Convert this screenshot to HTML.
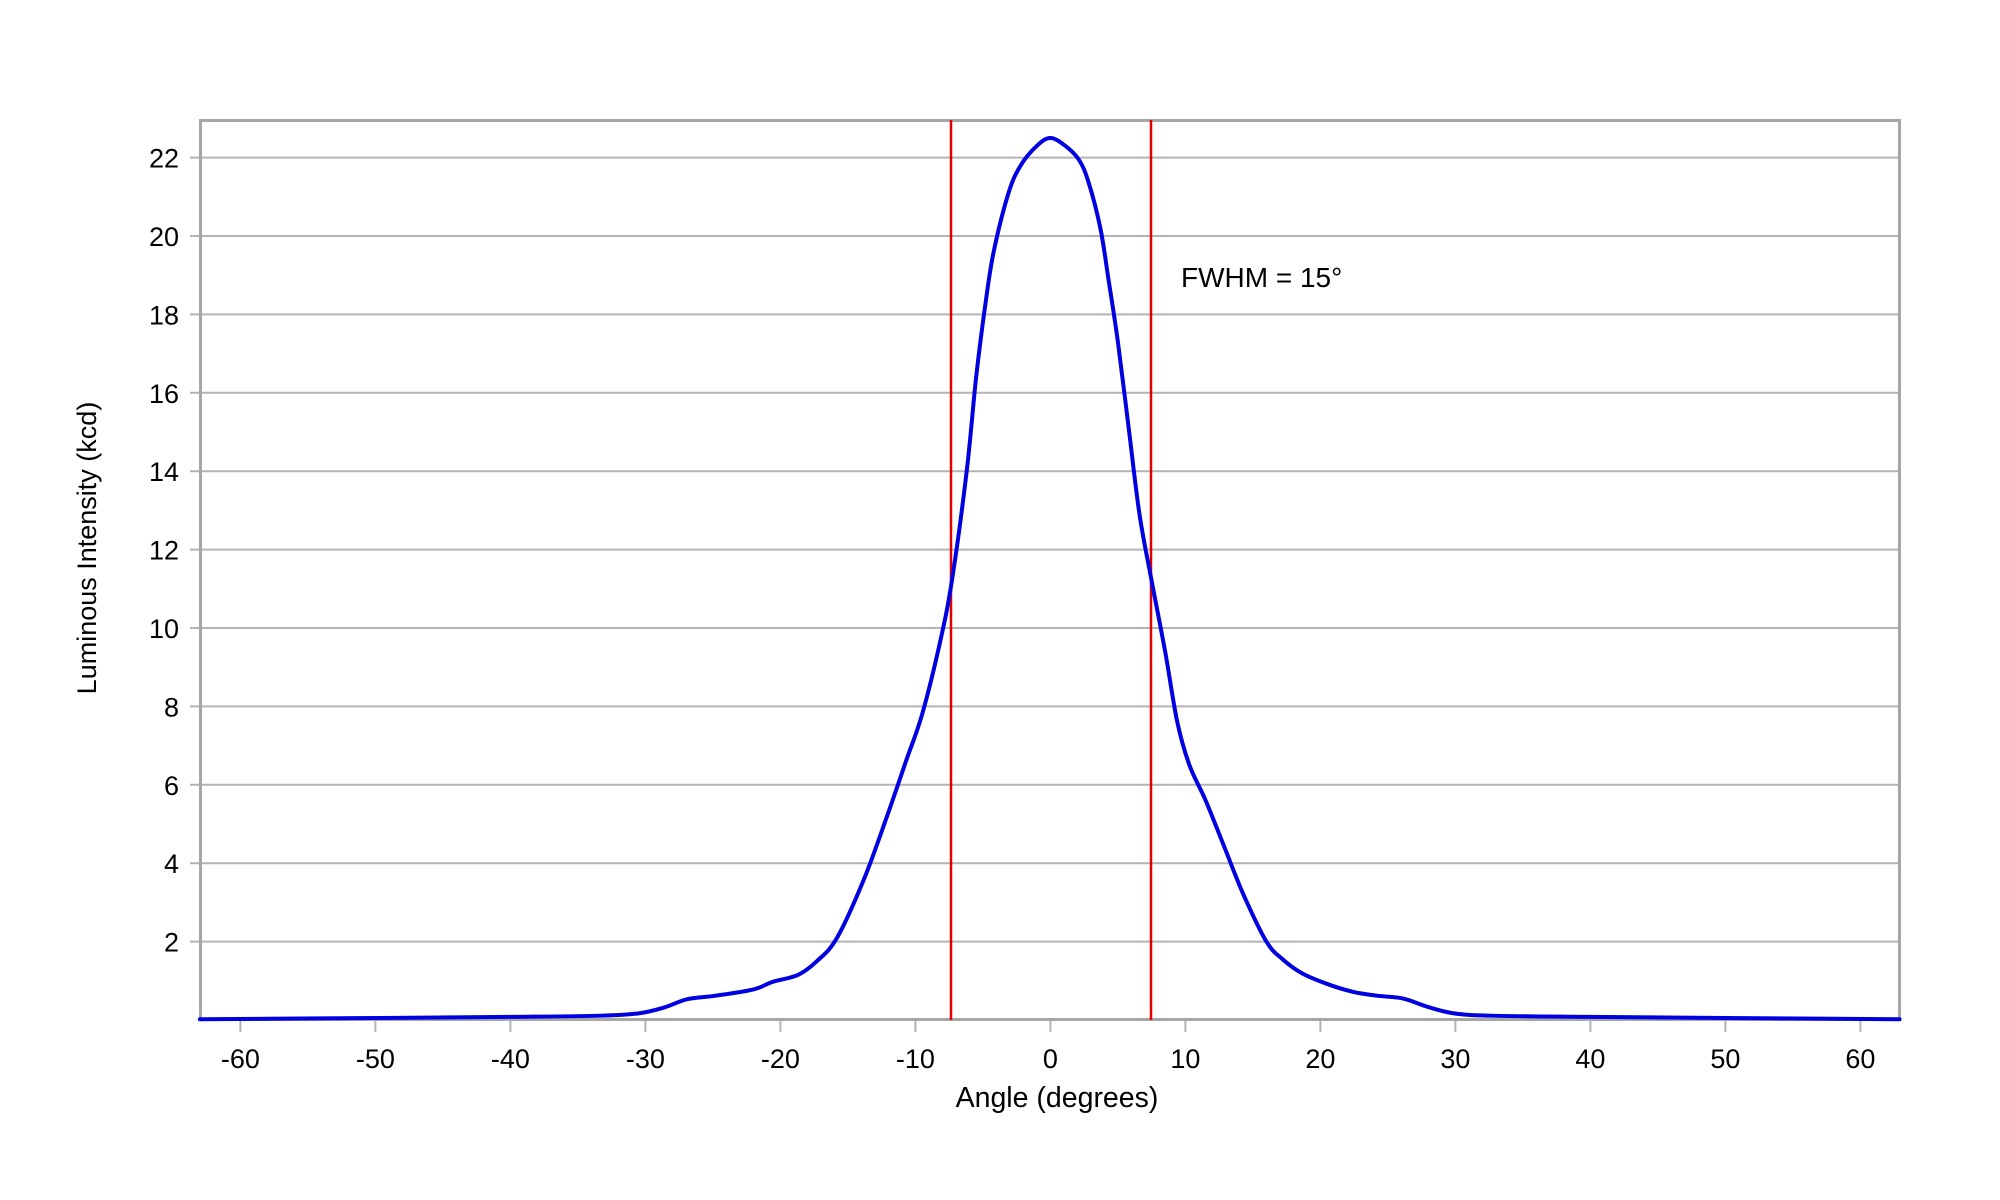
<!DOCTYPE html>
<html><head><meta charset="utf-8"><style>
html,body{margin:0;padding:0;background:#fff;}
svg{display:block;font-family:"Liberation Sans",Arial,sans-serif;}
</style></head><body>
<svg id="s" width="2000" height="1200" xmlns="http://www.w3.org/2000/svg">
<rect width="2000" height="1200" fill="#fff"/>
<g id="grid" stroke="#b3b3b3" stroke-width="2"></g>
<g id="ylab" font-size="27" text-anchor="end" fill="#000"></g>
<g id="xlab" font-size="27" text-anchor="middle" fill="#000"></g>
<rect x="200.5" y="120.5" width="1699" height="899" fill="none" stroke="#a6a6a6" stroke-width="3"/>
<line x1="951" y1="120" x2="951" y2="1020" stroke="#e00000" stroke-width="2.5"/>
<line x1="1151" y1="120" x2="1151" y2="1020" stroke="#e00000" stroke-width="2.5"/>
<path id="curve" fill="none" stroke="#0000e0" stroke-width="4" stroke-linejoin="round" stroke-linecap="round"/>
<text x="1181" y="287" font-size="28" fill="#000">FWHM = 15°</text>
<text x="1057" y="1107" font-size="28.5" text-anchor="middle" fill="#000">Angle (degrees)</text>
<text transform="translate(96,548) rotate(-90)" font-size="27" text-anchor="middle" fill="#000">Luminous Intensity (kcd)</text>
</svg>
<script>
var X=function(a){return 1050.4+a*13.5;};
var Y=function(v){return 1020-v*39.2;};
var ns="http://www.w3.org/2000/svg";
var g=document.getElementById('grid'),yl=document.getElementById('ylab'),xl=document.getElementById('xlab');
for(var v=2;v<=22;v+=2){
 var l=document.createElementNS(ns,'line');l.setAttribute('x1',190);l.setAttribute('x2',1900);
 l.setAttribute('y1',Y(v));l.setAttribute('y2',Y(v));g.appendChild(l);
 var t=document.createElementNS(ns,'text');t.setAttribute('x',179);t.setAttribute('y',Y(v)+10);t.textContent=v;yl.appendChild(t);
}
for(var a=-60;a<=60;a+=10){
 var l=document.createElementNS(ns,'line');l.setAttribute('x1',X(a));l.setAttribute('x2',X(a));
 l.setAttribute('y1',1020);l.setAttribute('y2',1032);g.appendChild(l);
 var t=document.createElementNS(ns,'text');t.setAttribute('x',X(a));t.setAttribute('y',1068);t.textContent=a;xl.appendChild(t);
}
var pts=[[-63,0.02],[-50,0.05],[-40,0.08],[-33.3,0.11],[-30.5,0.17],[-28.6,0.32],[-26.9,0.53],[-24.8,0.62],[-22,0.78],[-20.6,0.97],[-18.7,1.15],[-17.3,1.5],[-15.8,2.1],[-13.8,3.6],[-12.1,5.2],[-10.7,6.6],[-9.5,7.8],[-8.2,9.6],[-7.3,11.2],[-6.2,14],[-5.5,16.4],[-4.8,18.3],[-4.2,19.6],[-3.1,21.1],[-2.2,21.8],[-1,22.3],[0,22.5],[1.1,22.3],[2.1,21.95],[2.8,21.4],[3.7,20.2],[4.3,18.9],[5,17.3],[5.8,15.1],[6.6,12.9],[7.5,11.2],[8.5,9.4],[9.4,7.6],[10.3,6.5],[11.5,5.6],[12.9,4.4],[14.3,3.2],[16,2.0],[17.2,1.55],[18.6,1.2],[20.5,0.92],[22.4,0.72],[24.2,0.62],[26.1,0.55],[28,0.33],[29.9,0.17],[32.7,0.11],[40,0.08],[50,0.05],[62.9,0.02]];
var P=pts.map(function(p){return [X(p[0]),Y(p[1])];});
var d="M"+P[0][0]+","+P[0][1];
for(var i=0;i<P.length-1;i++){
 var p0=P[Math.max(i-1,0)],p1=P[i],p2=P[i+1],p3=P[Math.min(i+2,P.length-1)];
 var c1x=p1[0]+(p2[0]-p0[0])/6,c1y=p1[1]+(p2[1]-p0[1])/6;
 var c2x=p2[0]-(p3[0]-p1[0])/6,c2y=p2[1]-(p3[1]-p1[1])/6;
 d+=" C"+c1x+","+c1y+" "+c2x+","+c2y+" "+p2[0]+","+p2[1];
}
document.getElementById('curve').setAttribute('d',d);
</script>
</body></html>
